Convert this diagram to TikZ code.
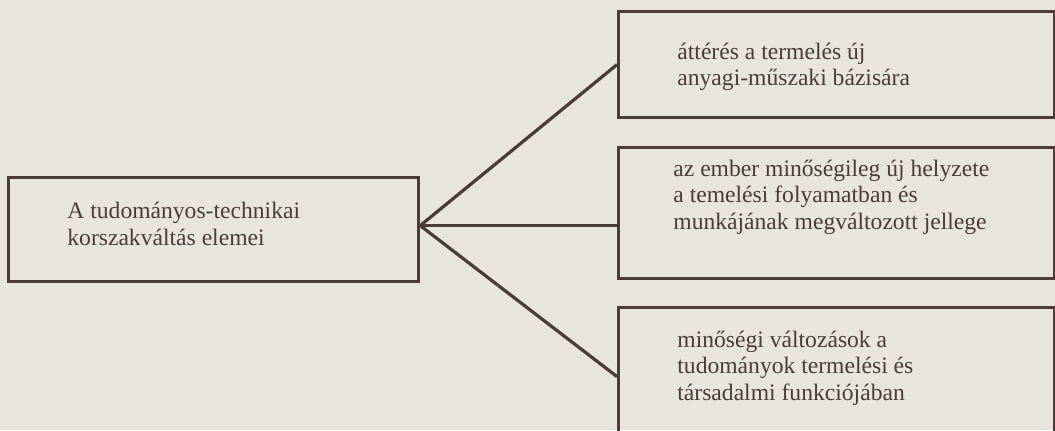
\documentclass[tikz,border=0pt]{standalone}
\usepackage{fontspec}
\setmainfont{Liberation Serif}
\usepackage{tikz}
\definecolor{ink}{RGB}{75,60,58}
\definecolor{paper}{RGB}{231,229,221}

\begin{document}
\begin{tikzpicture}[x=0.5pt,y=-0.5pt,
    box/.style={draw=ink, line width=1.6pt, anchor=north west, inner sep=0pt},
    txt/.style={anchor=west, align=left, text=ink, inner sep=0pt,
      font=\fontsize{11.8}{13.2}\selectfont}]
  \fill[paper] (0,0) rectangle (1055,430);
  \useasboundingbox (0,0) rectangle (1055,430);
  \node[box, minimum width=205pt, minimum height=52pt] (A) at (7,176) {};
  \node[box, minimum width=218pt, minimum height=53pt] (B) at (617,10) {};
  \node[box, minimum width=218pt, minimum height=65.5pt] (C) at (617,146) {};
  \node[box, minimum width=218pt, minimum height=69pt] (D) at (617,306) {};
  \node[txt] (a) at (67,224) {A tudományos-technikai\\korszakváltás elemei};
  \node[txt] (b) at (677,67) {áttérés a termelés új\\anyagi-műszaki bázisára};
  \node[txt] (c) at (673,197) {az ember minőségileg új helyzete\\a temelési folyamatban és\\munkájának megváltozott jellege};
  \node[txt] (d) at (677,368) {minőségi változások a\\tudományok termelési és\\társadalmi funkciójában};
  \coordinate (hub) at ([yshift=2pt]A.east);
  \draw[ink, line width=1.6pt] (hub) -- (B.west);
  \draw[ink, line width=1.6pt] (hub) -- (hub -| C.west);
  \draw[ink, line width=1.6pt] (hub) -- (D.west);
\end{tikzpicture}
\end{document}
